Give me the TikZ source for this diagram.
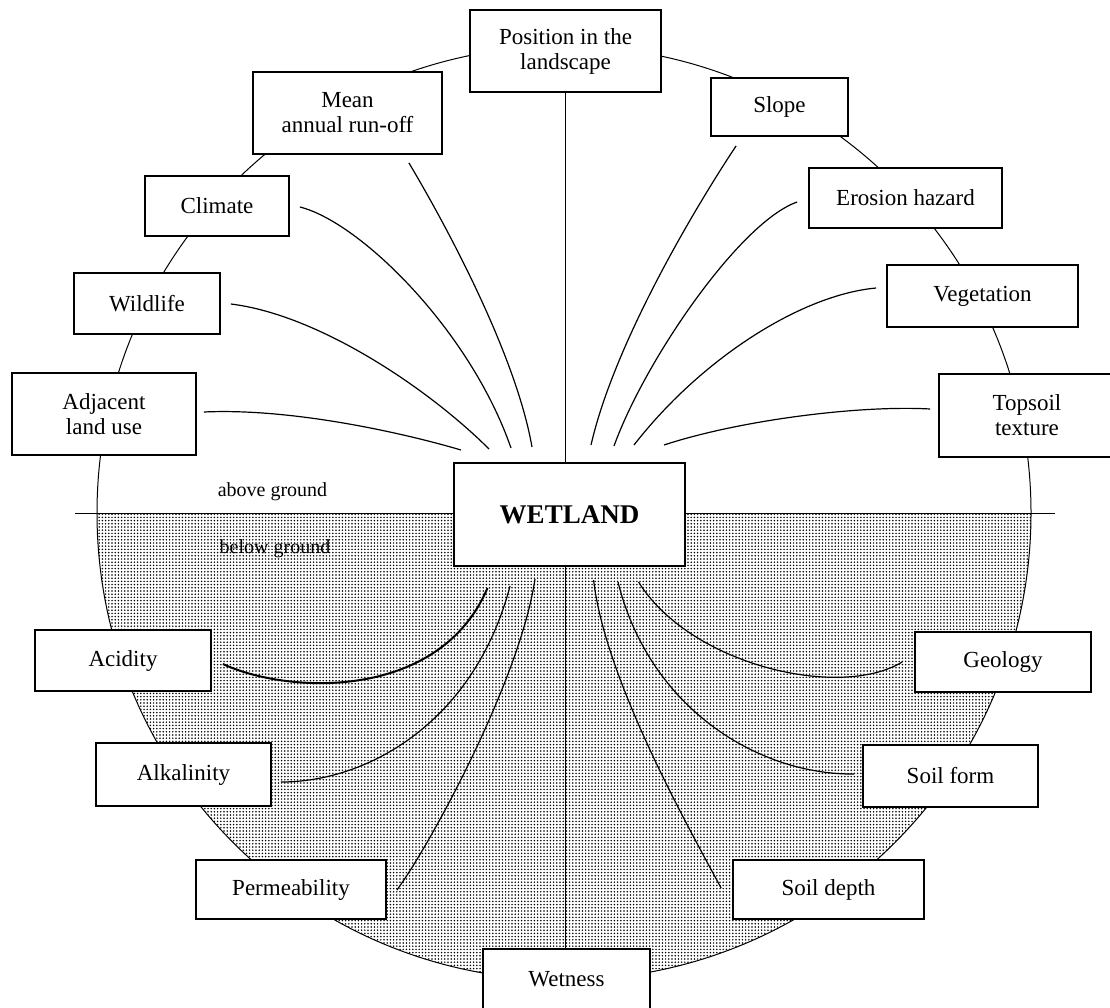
\documentclass[tikz,border=0pt]{standalone}
\usepackage{fontspec}
\setmainfont{Liberation Serif}
\usetikzlibrary{patterns}
\pgfdeclarepatternformonly{gdots}{\pgfqpoint{-1pt}{-1pt}}{\pgfqpoint{1pt}{1pt}}{\pgfqpoint{3.2pt}{3.2pt}}{\pgfpathcircle{\pgfqpoint{0pt}{0pt}}{0.85pt}\pgfusepath{fill}}
\begin{document}
\begin{tikzpicture}[x=1pt,y=-1pt,
  box/.style={draw, line width=1.8pt, fill=white, inner sep=0pt, align=center,
    font=\fontsize{23}{25}\selectfont},
  conn/.style={line width=1.2pt},
  thickconn/.style={line width=2pt},
  ring/.style={line width=1pt},
  gtext/.style={font=\fontsize{20}{22}\selectfont, inner sep=0pt, anchor=base}]
\useasboundingbox (0,0) rectangle (1110,1007);

% shaded lower half
\begin{scope}
  \clip (0,513) rectangle (1110,1007);
  \fill[pattern=gdots] (564,513) circle[radius=467];
\end{scope}
\draw[ring] (564,513) circle[radius=467];

% ground line
\coordinate (gl) at (75,513);
\coordinate (gr) at (1055,513);
\draw[ring] (gl) -- (gr);

\node[gtext] (above) at (272.5,496) {above ground};
\node[gtext] (below) at (275,553) {below ground};

% boxes
\node[box, minimum width=191pt, minimum height=82pt] (pos) at (565.5,51) {Position in the\\landscape};
\node[box, minimum width=189pt, minimum height=82pt] (mean) at (347.5,113) {Mean\\annual run-off};
\node[box, minimum width=144pt, minimum height=60pt] (climate) at (217,206) {Climate};
\node[box, minimum width=137pt, minimum height=58pt] (slope) at (779.5,107) {Slope};
\node[box, minimum width=193pt, minimum height=60pt] (erosion) at (905.5,198) {Erosion hazard};
\node[box, minimum width=146pt, minimum height=61pt] (wildlife) at (147,303.5) {Wildlife};
\node[box, minimum width=184pt, minimum height=82pt] (adj) at (104,414) {Adjacent\\land use};
\node[box, minimum width=191pt, minimum height=62pt] (veg) at (982.5,296) {Vegetation};
\node[box, minimum width=176pt, minimum height=83pt] (topsoil) at (1027,415.5) {Topsoil\\texture};
\node[box, minimum width=231pt, minimum height=103pt, font=\fontsize{27}{30}\selectfont\bfseries] (wet) at (569.5,514.5) {WETLAND};
\node[box, minimum width=176pt, minimum height=61pt] (acid) at (123,660.5) {Acidity};
\node[box, minimum width=175pt, minimum height=63pt] (alk) at (183.5,774.5) {Alkalinity};
\node[box, minimum width=190pt, minimum height=59pt] (perm) at (291,889.5) {Permeability};
\node[box, minimum width=176pt, minimum height=60pt] (geo) at (1003,662) {Geology};
\node[box, minimum width=175pt, minimum height=62pt] (sform) at (950.5,776) {Soil form};
\node[box, minimum width=191pt, minimum height=59pt] (sdepth) at (828.5,889.5) {Soil depth};
\node[box, minimum width=167pt, minimum height=60pt] (wetness) at (566.5,979) {Wetness};

% end points near WETLAND
\coordinate (e1) at (461,450);
\coordinate (e2) at (489,449);
\coordinate (e3) at (511,448);
\coordinate (e4) at (532,447);
\coordinate (e5) at (591,445);
\coordinate (e6) at (614,446);
\coordinate (e7) at (634,445);
\coordinate (e8) at (664,445);
\coordinate (b1) at (487.5,588);
\coordinate (b2) at (510,586);
\coordinate (b3) at (535,579);
\coordinate (b4) at (638.6,582);
\coordinate (b5) at (618,582);
\coordinate (b6) at (593.6,580);

% vertical lines
\draw[conn] (pos.south) -- (pos.south |- wet.north);
\draw[conn] (pos.south |- wet.south) -- (pos.south |- wetness.north);

% upper connectors
\draw[conn] ([shift={(7,-2)}]adj.east) .. controls (290,408) and (400,432) .. (e1);
\draw[conn] ([shift={(10,0.5)}]wildlife.east) .. controls (320,315) and (430,390) .. (e2);
\draw[conn] ([shift={(10,1)}]climate.east) .. controls (360,222) and (470,330) .. (e3);
\draw[conn] ([shift={(-34,8)}]mean.south east) .. controls (440,215) and (515,350) .. (e4);
\draw[conn] ([shift={(26,9)}]slope.south west) .. controls (700,200) and (615,340) .. (e5);
\draw[conn] ([shift={(-11,4)}]erosion.west) .. controls (740,222) and (645,360) .. (e6);
\draw[conn] ([shift={(-10,-8)}]veg.west) .. controls (800,295) and (700,360) .. (e7);
\draw[conn] ([shift={(-8,-6.5)}]topsoil.west) .. controls (860,405) and (740,420) .. (e8);

% lower connectors
\draw[thickconn] ([shift={(11,3.5)}]acid.east) .. controls (290,695) and (440,700) .. (b1);
\draw[conn] ([shift={(9,7.5)}]alk.east) .. controls (370,782) and (475,720) .. (b2);
\draw[conn] ([shift={(10,0.5)}]perm.east) .. controls (430,845) and (520,680) .. (b3);
\draw[conn] ([shift={(-12,0)}]geo.west) .. controls (840,700) and (690,665) .. (b4);
\draw[conn] ([shift={(-8,-2)}]sform.west) .. controls (760,775) and (650,710) .. (b5);
\draw[conn] ([shift={(-11,-1.5)}]sdepth.west) .. controls (690,830) and (605,680) .. (b6);
\end{tikzpicture}
\end{document}
